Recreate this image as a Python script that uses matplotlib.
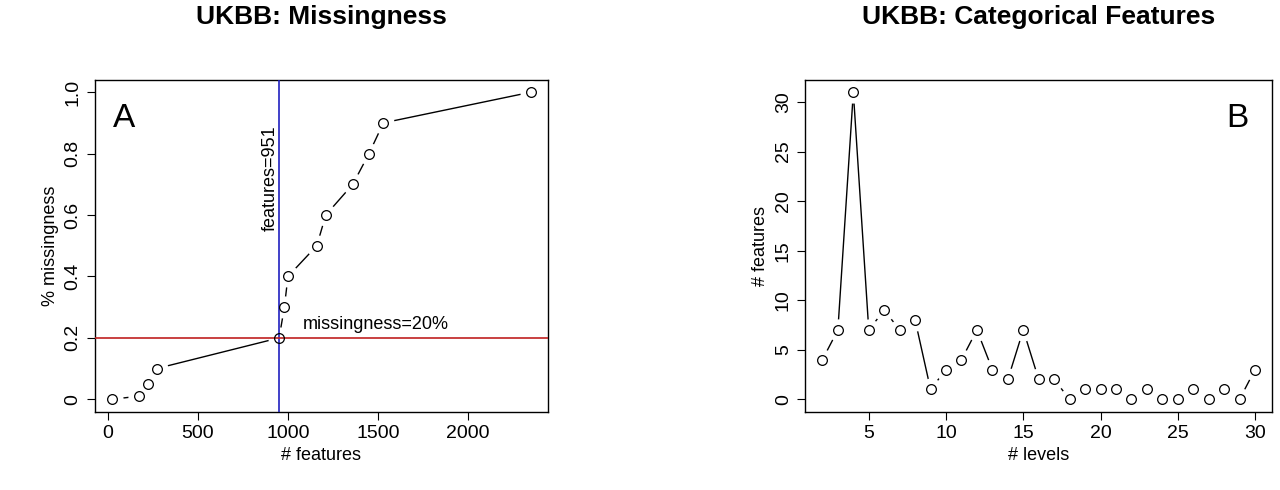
import matplotlib
matplotlib.use("Agg")
import matplotlib.pyplot as plt

miss_x = [20, 170, 220, 270, 951, 980, 1000, 1160, 1210, 1360, 1450, 1530, 2350]
miss_y = [0, 0.01, 0.05, 0.1, 0.2, 0.3, 0.4, 0.5, 0.6, 0.7, 0.8, 0.9, 1.0]
levels = list(range(2, 31))
counts = [4, 7, 31, 7, 9, 7, 8, 1, 3, 4, 7, 3, 2, 7, 2, 2, 0, 1, 1, 1, 0, 1, 0, 0, 1, 0, 1, 0, 3]

plt.rcParams['font.family'] = ['Liberation Sans', 'DejaVu Sans']
fig = plt.figure(figsize=(12.8, 4.9), dpi=100)
ax1 = fig.add_axes([0.074, 0.16, 0.354, 0.677])
ax2 = fig.add_axes([0.629, 0.16, 0.365, 0.677])

def rlim(v):
    lo, hi = min(v), max(v)
    p = (hi - lo) * 0.04
    return lo - p, hi + p

def typeb(ax, x, y):
    ax.plot(x, y, color='black', lw=1, zorder=2)
    ax.plot(x, y, ls='none', marker='o', ms=16, mfc='white', mec='none', zorder=3)
    ax.plot(x, y, ls='none', marker='o', ms=7, mfc='none', mec='black', mew=0.9, zorder=5)

for ax in (ax1, ax2):
    ax.tick_params(labelsize=14, length=6)
    for s in ax.spines.values():
        s.set_linewidth(1)

ax1.axvline(951, color='#2020c0', lw=1.2, zorder=4)
ax1.axhline(0.2, color='#c02020', lw=1.2, zorder=4)
typeb(ax1, miss_x, miss_y)
ax1.set_xlim(*rlim(miss_x)); ax1.set_ylim(*rlim(miss_y))
ax1.set_xticks([0, 500, 1000, 1500, 2000])
ax1.set_yticks([0, 0.2, 0.4, 0.6, 0.8, 1.0])
ax1.set_yticklabels(['0', '0.2', '0.4', '0.6', '0.8', '1.0'], rotation=90, va='center')
ax1.set_xlabel('# features', fontsize=13)
ax1.set_ylabel('% missingness', fontsize=13)
ax1.set_title('UKBB: Missingness', fontsize=19, fontweight='bold', pad=40)
ax1.text(0.04, 0.93, 'A', transform=ax1.transAxes, fontsize=24, va='top')
ax1.text(900, 0.72, 'features=951', rotation=90, fontsize=13, ha='center', va='center')
ax1.text(1080, 0.245, 'missingness=20%', fontsize=13, ha='left', va='center')

typeb(ax2, levels, counts)
ax2.set_xlim(*rlim(levels)); ax2.set_ylim(*rlim(counts))
ax2.set_xticks([5, 10, 15, 20, 25, 30])
ax2.set_yticks([0, 5, 10, 15, 20, 25, 30])
ax2.set_yticklabels(['0', '5', '10', '15', '20', '25', '30'], rotation=90, va='center')
ax2.set_xlabel('# levels', fontsize=13)
ax2.set_ylabel('# features', fontsize=13)
ax2.set_title('UKBB: Categorical Features', fontsize=19, fontweight='bold', pad=40)
ax2.text(0.95, 0.93, 'B', transform=ax2.transAxes, fontsize=24, va='top', ha='right')

fig.savefig('out.png', dpi=100)
